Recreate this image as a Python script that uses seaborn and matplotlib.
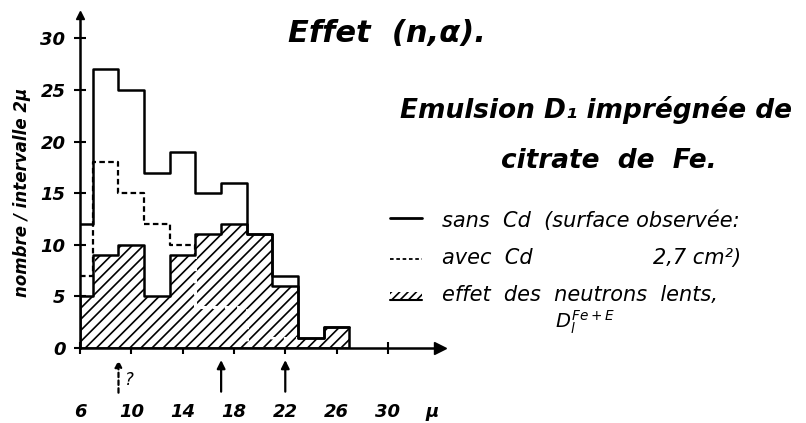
import numpy as np
import matplotlib
matplotlib.use("Agg")
import matplotlib.pyplot as plt
from matplotlib.patches import Rectangle
from matplotlib.lines import Line2D
import seaborn as sns

# bornes des intervalles (microns) et nombres de traces
edges = [6, 7, 9, 11, 13, 15, 17, 19, 21, 23, 25, 27]
sans_cd = [12, 27, 25, 17, 19, 15, 16, 11, 7, 1, 2]
avec_cd = [7, 18, 15, 12, 10, 4, 4, 0, 1, 0, 0]
effet_lents = [5, 9, 10, 5, 9, 11, 12, 11, 6, 1, 2]

x_ticks = [6, 10, 14, 18, 22, 26, 30]
y_ticks = [0, 5, 10, 15, 20, 25, 30]
arrows_solid = [17, 22]
arrow_dotted = 9

sns.set_style("white")
plt.rcParams["font.family"] = ["DejaVu Sans"]
plt.rcParams["mathtext.fontset"] = "dejavusans"
plt.rcParams["hatch.linewidth"] = 1.2
plt.rcParams["hatch.color"] = "black"
plt.rcParams["text.color"] = "black"

W, H = 806, 423
fig = plt.figure(figsize=(W / 100, H / 100), dpi=100)
ax = fig.add_axes([80 / W, (H - 348) / H, 360 / W, 333 / H])

centers = [(a + b) / 2 for a, b in zip(edges[:-1], edges[1:])]
dash = (0, (2.5, 1.5))

# avec Cd en noir (caché sous la zone hachurée)
sns.histplot(x=centers, weights=avec_cd, bins=edges, element="step", fill=False,
             color="black", linestyle=dash, linewidth=1.6, zorder=1.5, ax=ax)
# zone hachurée
sns.histplot(x=centers, weights=effet_lents, bins=edges, element="step", fill=True,
             color="black", facecolor="white", edgecolor="black", hatch="///",
             linewidth=0, zorder=2, ax=ax)
hatch_poly = ax.collections[-1]
# avec Cd en blanc à l'intérieur des hachures
sns.histplot(x=centers, weights=avec_cd, bins=edges, element="step", fill=False,
             color="white", linestyle=dash, linewidth=2.2, zorder=2.2, ax=ax)
ax.lines[-1].set_clip_path(hatch_poly.get_paths()[0], ax.transData)
# contour de la zone hachurée
sns.histplot(x=centers, weights=effet_lents, bins=edges, element="step", fill=True,
             color="black", facecolor=(1, 1, 1, 0), edgecolor="black", linewidth=1.8,
             zorder=2.4, ax=ax)
# sans Cd
sns.histplot(x=centers, weights=sans_cd, bins=edges, element="step", fill=False,
             color="black", linewidth=1.8, zorder=2.6, ax=ax)

ax.set_xlim(6, 6 + 360 / 12.83)
ax.set_ylim(0, 333 / 10.32)
ax.set_xlabel("")
ax.set_ylabel("")
for s in ["top", "right"]:
    ax.spines[s].set_visible(False)
for s in ["left", "bottom"]:
    ax.spines[s].set_linewidth(1.8)
    ax.spines[s].set_color("black")
    ax.spines[s].set_zorder(3)
ax.plot(1, 0, marker=">", color="black", ms=9, transform=ax.transAxes, clip_on=False)
ax.plot(0, 1, marker="^", color="black", ms=6, transform=ax.transAxes, clip_on=False)

tick_font = dict(family="DejaVu Sans", style="italic", weight="bold", size=13)
ax.set_xticks(x_ticks)
ax.set_xticklabels([str(v) for v in x_ticks], fontdict=tick_font)
ax.set_yticks(y_ticks)
ax.set_yticklabels([str(v) for v in y_ticks], fontdict=tick_font)
ax.tick_params(axis="both", direction="inout", length=9, width=1.5, colors="black",
               bottom=True, left=True)
ax.tick_params(axis="x", pad=35)
ax.tick_params(axis="y", pad=6)

# flèches sous l'axe
for xv in arrows_solid:
    ax.annotate("", xy=(xv, -0.9), xytext=(xv, -4.5), annotation_clip=False,
                arrowprops=dict(arrowstyle="-|>", color="black", lw=1.6, mutation_scale=12))
ax.annotate("", xy=(arrow_dotted, -0.9), xytext=(arrow_dotted, -4.6), annotation_clip=False,
            arrowprops=dict(arrowstyle="-|>", color="black", lw=1.6, linestyle=(0, (2, 1.5)),
                            mutation_scale=10))
ax.text(arrow_dotted + 0.5, -3.1, "?", fontsize=12, style="italic", ha="left", va="center",
        clip_on=False)


def px(x, y):
    return x / W, 1 - y / H


fig.text(*px(432, 412), "μ", fontsize=13, style="italic", weight="bold", ha="center", va="center")
fig.text(*px(22, 192), "nombre / intervalle 2μ", rotation=90, fontsize=12, style="italic",
         weight="bold", ha="center", va="center")

fig.text(*px(387, 42), "Effet  (n,α).", fontsize=22, style="italic", weight="bold",
         ha="center", va="baseline")
fig.text(*px(596, 118), "Emulsion D₁ imprégnée de", fontsize=19, style="italic", weight="bold",
         ha="center", va="baseline")
fig.text(*px(609, 168), "citrate  de  Fe.", fontsize=19, style="italic", weight="bold",
         ha="center", va="baseline")

leg_font = dict(fontsize=15, style="italic", va="baseline")
fig.add_artist(Line2D([390 / W, 422 / W], [1 - 218 / H] * 2, color="black", lw=2))
fig.text(*px(442, 227), "sans  Cd  (surface observée:", **leg_font)
fig.add_artist(Line2D([390 / W, 422 / W], [1 - 259 / H] * 2, color="black", lw=1.3,
                      linestyle=(0, (2, 1.5))))
fig.text(*px(442, 264), "avec  Cd", **leg_font)
fig.text(*px(653, 264), "2,7 cm²)", **leg_font)
fig.add_artist(Rectangle((390 / W, 1 - 300 / H), 32 / W, 8 / H, facecolor="white",
                         edgecolor="black", linewidth=0, hatch="////",
                         transform=fig.transFigure))
fig.add_artist(Line2D([390 / W, 422 / W], [1 - 300 / H] * 2, color="black", lw=1.5))
fig.text(*px(442, 301), "effet  des  neutrons  lents,", **leg_font)
fig.text(*px(555, 328), r"$D_l^{Fe+E}$", fontsize=14, ha="left", va="baseline")

fig.savefig("out.png", dpi=100)
